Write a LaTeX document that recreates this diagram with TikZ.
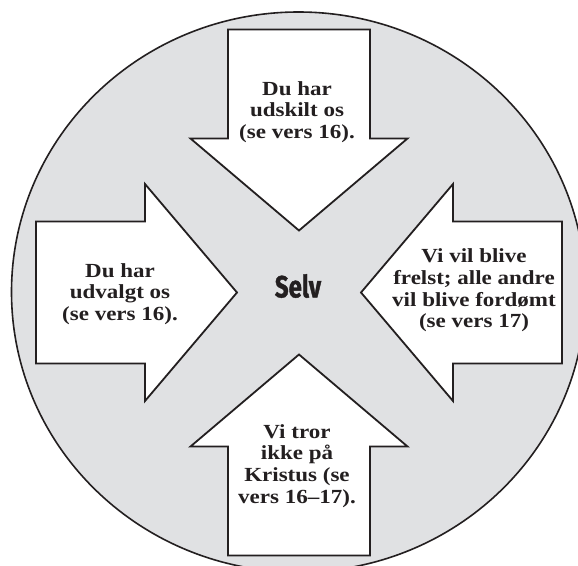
\documentclass[tikz,border=0pt]{standalone}
\usepackage{fontspec}
\newfontfamily\selvfont{Fira Sans}[BoldFeatures={FakeBold=1.5}]
\newfontfamily\serifbf{Liberation Serif}[FakeStretch=1.15]
\newcommand\palbf{\serifbf\bfseries\fontsize{20}{21.7}\selectfont}
\definecolor{circgray}{RGB}{224,225,227}
\definecolor{ink}{RGB}{35,31,32}
\tikzset{
  arrowshape/.style={draw=ink, fill=white, line width=1.8pt, line join=miter},
  label/.style={align=center, text=ink, font=\palbf, inner sep=0pt},
}
\begin{document}
\begin{tikzpicture}[x=1pt,y=-1pt]
\useasboundingbox (0,0) rectangle (578,565);
\clip (0,0) rectangle (578,565);
\fill[white] (0,0) rectangle (578,565);
\draw[fill=circgray, draw=ink, line width=1.6pt] (298.5,292) ellipse [x radius=287, y radius=280];
\begin{scope}[shift={(299,292.5)}]
  % left arrow, pointing right
  \draw[arrowshape] (-263,-71) -- (-154,-71) -- (-154,-108.5) -- (-62,0) -- (-154,108.5) -- (-154,71) -- (-263,71) -- cycle;
  % right arrow, pointing left
  \draw[arrowshape] (263,-71) -- (154,-71) -- (154,-108.5) -- (62,0) -- (154,108.5) -- (154,71) -- (263,71) -- cycle;
  % top arrow, pointing down
  \draw[arrowshape] (-71,-263) -- (-71,-154) -- (-108.5,-154) -- (0,-62) -- (108.5,-154) -- (71,-154) -- (71,-263) -- cycle;
  % bottom arrow, pointing up
  \draw[arrowshape] (-71,263) -- (-71,154) -- (-108.5,154) -- (0,62) -- (108.5,154) -- (71,154) -- (71,263) -- cycle;
\end{scope}
\node[label] (top) at (297,112) {Du har\\udskilt os\\(se vers 16).};
\node[label] (left) at (120,294) {Du har\\udvalgt os\\(se vers 16).};
\node[label] (right) at (474,290.5) {Vi vil blive\\frelst; alle andre\\vil blive fordømt\\(se vers 17)};
\node[label] (bottom) at (297,466) {Vi tror\\ikke på\\Kristus (se\\vers 16–17).};
\node[text=ink, inner sep=0pt] (selv) at (298,286) {\scalebox{0.8}[1.02]{\selvfont\bfseries\fontsize{30}{30}\selectfont Selv}};
\end{tikzpicture}
\end{document}
